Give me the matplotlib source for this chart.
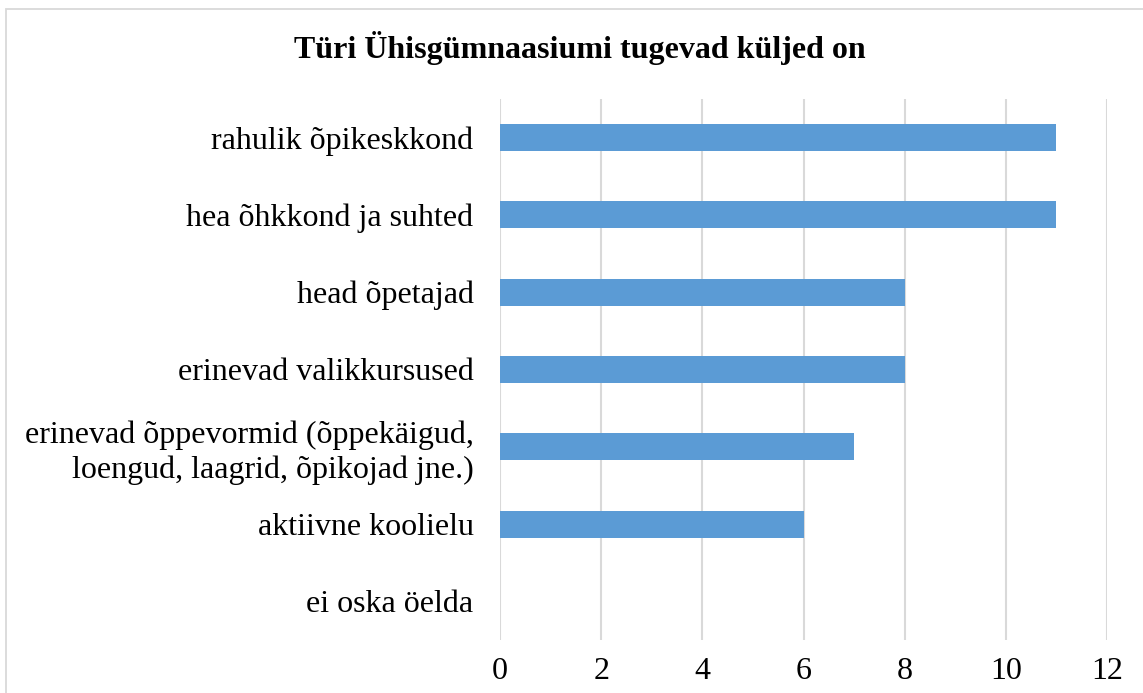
import matplotlib.pyplot as plt
from matplotlib.patches import Rectangle

plt.rcParams['font.family'] = ['Liberation Serif', 'DejaVu Serif']

categories = [
    'rahulik õpikeskkond',
    'hea õhkkond ja suhted',
    'head õpetajad',
    'erinevad valikkursused',
    'erinevad õppevormid (õppekäigud,\nloengud, laagrid, õpikojad jne.)',
    'aktiivne koolielu',
    'ei oska öelda',
]
values = [11, 11, 8, 8, 7, 6, 0]
xticks = [0, 2, 4, 6, 8, 10, 12]

fig = plt.figure(figsize=(11.43, 6.93), dpi=100)
ax = fig.add_axes([500 / 1143, 1 - 640 / 693, 607 / 1143, 541 / 693])

ypos = list(range(len(categories)))
ax.barh(ypos, values, height=0.35, color='#5b9bd5', zorder=3)
ax.set_yticks(ypos)
ax.set_yticklabels(categories, fontsize=23, linespacing=1.25)
ax.set_ylim(len(categories) - 0.5, -0.5)
ax.set_xlim(0, 12)
ax.set_xticks(xticks)
ax.set_xticklabels([str(t) for t in xticks], fontsize=23)
ax.tick_params(axis='both', length=0)
ax.tick_params(axis='y', pad=19)
ax.tick_params(axis='x', pad=12)
for lbl in ax.get_yticklabels():
    lbl.set_multialignment('right')
ax.grid(axis='x', color='#d9d9d9', linewidth=1.5, zorder=0)
for s in ax.spines.values():
    s.set_visible(False)

fig.text(0.507, 1 - 48 / 693, 'Türi Ühisgümnaasiumi tugevad küljed on',
         ha='center', va='center', fontsize=23, fontweight='bold')

border = Rectangle((6 / 1143, -0.1), 1.2, 1 - 9 / 693 + 0.1, transform=fig.transFigure,
                   fill=False, edgecolor='#d9d9d9', linewidth=1.3)
fig.patches.append(border)

fig.savefig('out.png', dpi=100)
